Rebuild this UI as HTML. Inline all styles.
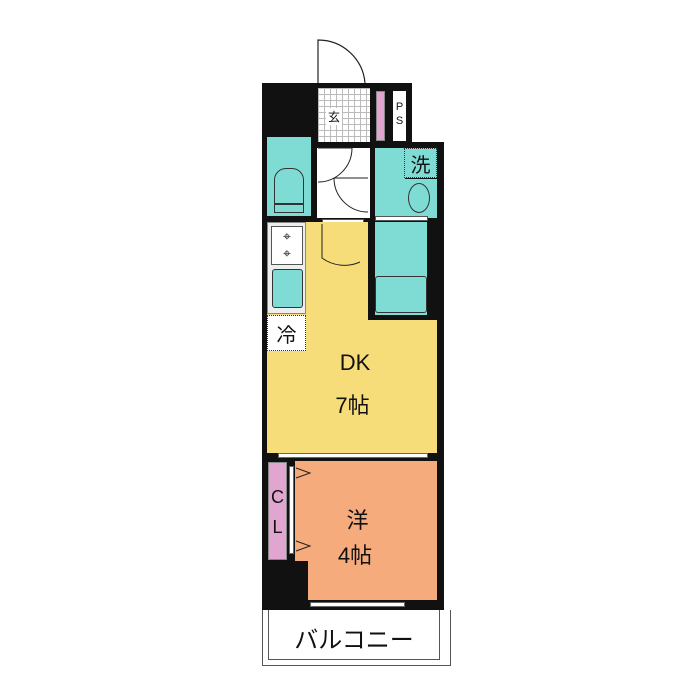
<!DOCTYPE html><html><head><meta charset="utf-8"><style>
body{margin:0;background:#fff;width:700px;height:700px;position:relative;overflow:hidden;font-family:"Liberation Sans","Noto Sans CJK JP",sans-serif}
div{position:absolute;box-sizing:border-box}
.c{background:#7fdcd4;border:1px solid #333}
.t{color:#111;text-align:center}
</style></head><body>
<!-- walls -->
<div style="left:262px;top:83px;width:150px;height:62px;background:#111"></div>
<div style="left:262px;top:142px;width:182px;height:468px;background:#111"></div>
<!-- entry door -->
<svg style="position:absolute;left:0;top:0" width="700" height="700">
<path d="M318 83 L318 40 A47 47 0 0 1 365 83" fill="#fff" stroke="#222" stroke-width="1.2"/>
</svg>
<!-- genkan -->
<div style="left:318px;top:88px;width:52px;height:54px;background-color:#fff;background-image:linear-gradient(#bbb 1px,transparent 1px),linear-gradient(90deg,#bbb 1px,transparent 1px);background-size:6px 6px"></div>
<div class="t" style="left:326px;top:108px;width:16px;font-size:12px;background:#fff">玄</div>
<div style="left:376px;top:91px;width:9px;height:50px;background:#e0a6cf;border:1px solid #888"></div>
<div style="left:393px;top:91px;width:13px;height:50px;background:#fff"></div>
<div class="t" style="left:393px;top:100px;width:13px;font-size:11px;line-height:14px">P<br>S</div>
<!-- toilet left -->
<div class="c" style="left:267px;top:137px;width:44px;height:79px;border:none"></div>
<div class="c" style="left:274px;top:168px;width:30px;height:36px;border-radius:12px 12px 0 0"></div>
<div class="c" style="left:274px;top:204px;width:30px;height:9px"></div>
<!-- hall -->
<div style="left:317px;top:148px;width:53px;height:70px;background:#fff"></div>
<div style="left:322px;top:219px;width:42px;height:5px;background:#fff;border:1px solid #555"></div>
<svg style="position:absolute;left:0;top:0" width="700" height="700" fill="none" stroke="#222" stroke-width="1">
<path d="M318 148 L352 148 A34 34 0 0 1 318 182"/>
<path d="M368 178 L334 178 A34 34 0 0 0 368 212"/>
</svg>
<!-- wash -->
<div class="c" style="left:375px;top:148px;width:30px;height:70px;border:none"></div>
<div style="left:404px;top:148px;width:33px;height:30px;background:#7fdcd4;border:1px dotted #333"></div>
<div class="t" style="left:404px;top:149px;width:33px;font-size:20px">洗</div>
<div class="c" style="left:404px;top:179px;width:33px;height:39px;border:none"></div>
<div class="c" style="left:408px;top:183px;width:22px;height:30px;border-radius:50%"></div>
<div style="left:375px;top:216px;width:53px;height:5px;background:#fff;border:1px solid #555"></div>
<!-- DK -->
<div style="left:267px;top:222px;width:170px;height:231px;background:#f7dd7a"></div>
<div style="left:368px;top:222px;width:72px;height:98px;background:#111"></div>
<div class="c" style="left:375px;top:222px;width:52px;height:93px;border:none"></div>
<div class="c" style="left:375px;top:276px;width:52px;height:37px;border-radius:3px"></div>
<svg style="position:absolute;left:0;top:0" width="700" height="700" fill="none" stroke="#222" stroke-width="1">
<path d="M322 224 L322 258 A38 38 0 0 0 360 262"/>
</svg>
<!-- kitchen -->
<div style="left:267px;top:222px;width:39px;height:92px;background:#eee;border:1px solid #888"></div>
<div style="left:271px;top:226px;width:32px;height:39px;background:#fff;border:1px solid #555"></div>
<div class="t" style="left:271px;top:228px;width:32px;font-size:14px;line-height:17px">⌖<br>⌖</div>
<div class="c" style="left:272px;top:269px;width:31px;height:39px;border-radius:3px"></div>
<div style="left:267px;top:315px;width:39px;height:36px;background:#fff;border:1.5px dotted #333"></div>
<div class="t" style="left:267px;top:319px;width:39px;font-size:20px">冷</div>
<div class="t" style="left:320px;top:350px;width:70px;font-size:22px">DK</div>
<div class="t" style="left:315px;top:388px;width:75px;font-size:22px">7帖</div>
<!-- windows DK bottom -->
<div style="left:278px;top:453px;width:150px;height:5px;background:#fff;border:1px solid #666"></div>
<!-- 洋 -->
<div style="left:308px;top:461px;width:129px;height:139px;background:#f5ab7b"></div>
<div style="left:295px;top:461px;width:14px;height:100px;background:#f5ab7b"></div>
<div style="left:268px;top:462px;width:19px;height:98px;background:#e0a6cf;border:1px solid #888"></div>
<div style="left:289px;top:466px;width:5px;height:88px;background:#fff;border:1px solid #666"></div>
<div class="t" style="left:268px;top:482px;width:19px;font-size:18px;line-height:30px">C<br>L</div>
<svg style="position:absolute;left:0;top:0" width="700" height="700" fill="none" stroke="#222" stroke-width="1">
<path d="M296 468 L310 473 L296 478"/><path d="M296 541 L310 546 L296 551"/>
</svg>
<div class="t" style="left:320px;top:503px;width:75px;font-size:22px">洋</div>
<div class="t" style="left:315px;top:538px;width:80px;font-size:22px">4帖</div>
<div style="left:310px;top:602px;width:95px;height:5px;background:#fff;border:1px solid #666"></div>
<!-- balcony -->
<div style="left:262px;top:610px;width:189px;height:56px;background:#fff;border:1px solid #555;border-top:none"></div>
<div style="left:268px;top:610px;width:172px;height:50px;border:1px solid #555;border-top:none"></div>
<div class="t" style="left:268px;top:620px;width:172px;font-size:24px">バルコニー</div>
</body></html>
